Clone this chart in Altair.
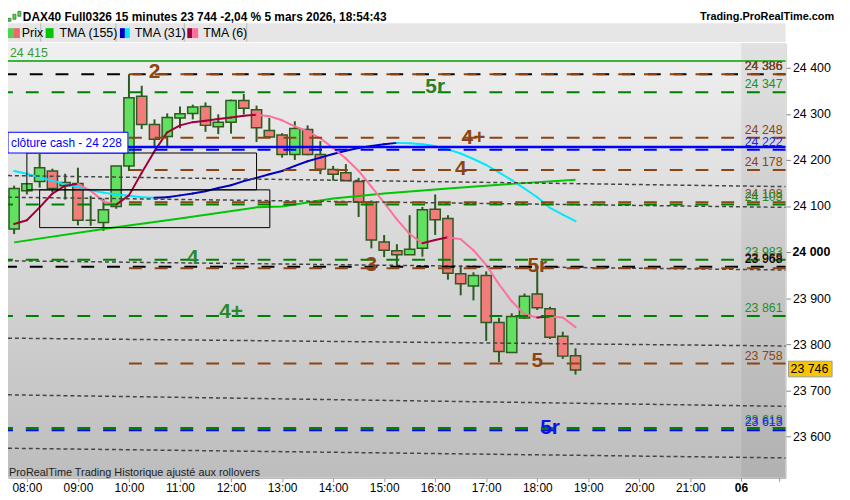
import altair as alt
import pandas as pd

# ---------------- data ----------------
bar_times = ["07:45", "08:00", "08:15", "08:30", "08:45", "09:00", "09:15", "09:30", "09:45",
             "10:00", "10:15", "10:30", "10:45", "11:00", "11:15", "11:30", "11:45",
             "12:00", "12:15", "12:30", "12:45", "13:00", "13:15", "13:30", "13:45",
             "14:00", "14:15", "14:30", "14:45", "15:00", "15:15", "15:30", "15:45",
             "16:00", "16:15", "16:30", "16:45", "17:00", "17:15", "17:30", "17:45",
             "18:00", "18:15", "18:30", "18:45"]
opens = [24050, 24133, 24153, 24176, 24144, 24149, 24069, 24064, 24099, 24187,
         24338, 24277, 24251, 24291, 24301, 24316, 24272, 24282, 24329, 24309,
         24264, 24254, 24212, 24266, 24212, 24179, 24172, 24153, 24108, 24022,
         24003, 23994, 24008, 24093, 24073, 23953, 23926, 23949, 23847, 23782,
         23857, 23909, 23877, 23817, 23775]
highs = [24144, 24148, 24213, 24181, 24170, 24183, 24122, 24116, 24187, 24386,
         24361, 24288, 24301, 24316, 24320, 24325, 24299, 24331, 24343, 24318,
         24291, 24258, 24284, 24275, 24241, 24187, 24191, 24161, 24112, 24037,
         24017, 24080, 24098, 24125, 24080, 23971, 23956, 23958, 23857, 23867,
         23910, 23965, 23881, 23827, 23791]
lows = [24039, 24125, 24140, 24130, 24114, 24058, 24057, 24046, 24094, 24176,
        24267, 24230, 24230, 24269, 24288, 24261, 24256, 24257, 24299, 24239,
        24248, 24205, 24200, 24210, 24169, 24155, 24155, 24076, 24008, 23989,
        23970, 23994, 23990, 24037, 23940, 23906, 23895, 23807, 23761, 23782,
        23855, 23874, 23811, 23768, 23734]
closes = [24138, 24148, 24183, 24138, 24151, 24069, 24069, 24092, 24187, 24335,
          24277, 24245, 24292, 24300, 24315, 24275, 24282, 24329, 24312, 24270,
          24250, 24212, 24268, 24212, 24180, 24169, 24155, 24108, 24026, 24004,
          23994, 24006, 24092, 24070, 23954, 23931, 23949, 23847, 23784, 23860,
          23904, 23879, 23815, 23774, 23744]

tma6 = [24061, 24069, 24097, 24127, 24144, 24148, 24133, 24110, 24103, 24123,
        24172, 24219, 24260, 24275, 24282, 24285, 24289, 24292, 24296, 24298,
        24295, 24286, 24273, 24262, 24247, 24226, 24203, 24176, 24142, 24107,
        24071, 24039, 24019, 24026, 24032, 24028, 24004, 23972, 23930, 23893,
        23865, 23858, 23860, 23858, 23837]
tma31 = [24176, 24170, 24162, 24155, 24147, 24141, 24134, 24129, 24125, 24122,
         24119, 24118, 24119, 24123, 24127, 24132, 24139, 24145, 24154, 24161,
         24169, 24176, 24187, 24197, 24205, 24213, 24220, 24226, 24230, 24234,
         24237, 24236, 24234, 24230, 24223, 24214, 24202, 24189, 24173, 24156,
         24138, 24119, 24096, 24081, 24067]
tma155_times = ["07:45", "09:30", "11:00", "12:30", "13:00", "14:00", "15:00", "16:15", "17:30", "18:45"]
tma155 = [24021, 24050, 24073, 24097, 24099, 24116, 24127, 24138, 24148, 24157]

x_tick_labels = ["08:00", "09:00", "10:00", "11:00", "12:00", "13:00", "14:00",
                 "15:00", "16:00", "17:00", "18:00", "19:00", "20:00", "21:00", "06"]
y_ticks = [23600, 23700, 23800, 23900, 24000, 24100, 24200, 24300, 24400]
y_bold_tick = 24000

# horizontal levels: price, colour, style, start time (None = whole width)
level_prices = [24415, 24386, 24386, 24347, 24248, 24228, 24222, 24178, 24108, 24103,
                23983, 23968, 23965, 23861, 23758, 23618, 23613]
level_colors = ["#3cb43c", "#000000", "#8B4513", "#008000", "#8B4513", "#0000ff", "#0000ff",
                "#8B4513", "#8B4513", "#008000", "#008000", "#000000", "#8B4513", "#008000",
                "#8B4513", "#008000", "#0000ff"]
level_styles = ["solid", "dash", "dash", "dash", "dash", "solid", "dash", "dash", "dash", "dash",
                "dash", "dash", "dash", "dash", "dash", "dash", "dash"]
level_starts = [None, None, "10:00", None, "10:00", None, None, "10:00", "10:00", None,
                None, None, "10:00", None, "10:00", None, None]

# right-hand level labels
rlabel_text = ["24 386", "24 386", "24 347", "24 248", "24 222", "24 178", "24 108", "24 103",
               "23 983", "23 965", "23 968", "23 861", "23 758", "23 618", "23 613"]
rlabel_price = [24386, 24386, 24347, 24248, 24222, 24178, 24108, 24103,
                23983, 23969, 23968, 23861, 23758, 23618, 23613]
rlabel_color = ["#000000", "#8B4513", "#1f8f1f", "#8B4513", "#2020ff", "#8B4513", "#8B4513",
                "#1f8f1f", "#1f8f1f", "#8B4513", "#000000", "#1f8f1f", "#8B4513", "#1f8f1f", "#2020ff"]

# big wave labels
wave_text = ["2", "5r", "4+", "4", "4", "3", "5r", "4+", "5", "5r"]
wave_time = ["10:30", "16:00", "16:45", "16:30", "11:15", "14:45", "18:00", "12:00", "18:00", "18:15"]
wave_price = [24391, 24359, 24247, 24180, 23987, 23972, 23970, 23869, 23763, 23617]
wave_color = ["#8B4513", "#2a7f2a", "#8B4513", "#8B4513", "#2a8a2a", "#8B4513", "#8B4513",
              "#2a8a2a", "#8B4513", "#1010ee"]

# sloped dotted channel lines (left price, right price)
dot_left = [24166, 24119, 23981, 23813, 23690, 23574]
dot_right = [24142, 24097, 23961, 23796, 23665, 23553]

# two black boxes: t0, t1 (hours after 08:00), p0, p1
box_t0 = [0.0, 0.25]
box_t1 = [4.5, 4.76]
box_p0 = [24215, 24135]
box_p1 = [24135, 24053]

last_price = 23746

# ---------------- helpers ----------------
FONT = "Liberation Sans"
NARROW = "Liberation Sans Narrow, Liberation Sans"
XMIN, XMAX = -0.37, 14.865
YMIN, YMAX = 23509.7, 24453.8
W, H = 785, 439
WICK = "#2d5a1e"
xs = alt.Scale(domain=[XMIN, XMAX], nice=False, zero=False)
ys = alt.Scale(domain=[YMIN, YMAX], nice=False, zero=False)

x_axis = alt.Axis(values=list(range(14)),
                  labelExpr="(datum.value < 2 ? '0' : '') + (datum.value + 8) + ':00'",
                  title=None, grid=False, tickSize=4, tickColor="#999", domainColor="#aaa",
                  labelFont=NARROW, labelFontSize=12, labelColor="#000", labelPadding=1,
                  labelFlush=False)
y_axis = alt.Axis(orient="right", values=y_ticks,
                  labelExpr="datum.value == %d ? '' : replace(format(datum.value, ','), ',', ' ')" % y_bold_tick,
                  title=None, grid=False, tickSize=5, tickColor="#888", domainColor="#bbb",
                  labelFont=FONT, labelFontSize=12.5, labelColor="#000", labelPadding=2)


def X(f):
    return alt.X(f, type="quantitative", scale=xs, axis=x_axis)


def Y(f):
    return alt.Y(f, type="quantitative", scale=ys, axis=y_axis)


def hours(s):
    h, m = s.split(":")
    return int(h) + int(m) / 60 - 8


one = pd.DataFrame({"a": [0]})

# ---------------- layers ----------------
layers = []

grad = alt.LinearGradient(gradient="linear",
                          stops=[alt.GradientStop(color="#f0f0f0", offset=0),
                                 alt.GradientStop(color="#bdbdbd", offset=1)],
                          x1=0, x2=0, y1=0, y2=1)
layers.append(alt.Chart(one).mark_rect(fill=grad).encode(
    x=alt.value(0), x2=alt.value(W), y=alt.value(0), y2=alt.value(H)))

# future zone shading
fz = pd.DataFrame({"t0": [14.0], "t1": [XMAX]})
layers.append(alt.Chart(fz).mark_rect(fill="#000000", opacity=0.06).encode(
    x=X("t0"), x2="t1", y=alt.value(0), y2=alt.value(H)))

# candles
cdf = pd.DataFrame({"t": [hours(s) for s in bar_times], "o": opens, "h": highs,
                    "l": lows, "c": closes})
cdf["t0"] = cdf["t"] - 0.1
cdf["t1"] = cdf["t"] + 0.1
cdf["fill"] = ["#62e062" if c >= o else "#f27c7c" for o, c in zip(opens, closes)]

layers.append(alt.Chart(cdf).mark_rule(color=WICK, strokeWidth=2).encode(
    x=X("t"), y=Y("l"), y2="h"))
layers.append(alt.Chart(cdf).mark_rect(stroke=WICK, strokeWidth=1.5).encode(
    x=X("t0"), x2="t1", y=Y("o"), y2="c",
    fill=alt.Fill("fill:N", scale=None)))

# bold tick labels (24 000 on the price axis, 06 on the time axis) + next-day ticks
bt = pd.DataFrame({"p": [y_bold_tick], "t": [14.0]})
nt = pd.DataFrame({"t": [14.0, 14.75]})
layers.append(alt.Chart(bt).mark_text(text="24 000", align="left", baseline="middle",
                                      font=FONT, fontSize=12.5, fontWeight="bold",
                                      color="#000").encode(
    x=alt.value(W + 7), y=Y("p")))
layers.append(alt.Chart(nt).mark_rule(color="#999").encode(
    x=X("t"), y=alt.value(H), y2=alt.value(H + 4)))
layers.append(alt.Chart(bt).mark_text(text=x_tick_labels[-1], align="center", baseline="top",
                                      font=NARROW, fontSize=12, fontWeight="bold",
                                      color="#000").encode(
    x=X("t"), y=alt.value(H + 5)))


# moving averages
def segs(times, vals, up, down):
    rows = []
    for i in range(len(vals) - 1):
        rows.append(dict(t=hours(times[i]), t2=hours(times[i + 1]), p=vals[i], p2=vals[i + 1],
                         col=up if vals[i + 1] >= vals[i] else down))
    return pd.DataFrame(rows)


m155 = pd.DataFrame({"t": [hours(s) for s in tma155_times], "p": tma155})
layers.append(alt.Chart(m155).mark_line(color="#00c800", strokeWidth=2).encode(
    x=X("t"), y=Y("p")))
for df in (segs(bar_times, tma31, "#0000c0", "#00e8ff"),
           segs(bar_times, tma6, "#a0003a", "#ff6f9a")):
    layers.append(alt.Chart(df).mark_rule(strokeWidth=2, strokeCap="round").encode(
        x=X("t"), x2="t2", y=Y("p"), y2="p2",
        color=alt.Color("col:N", scale=None)))

# dotted channel lines
ddf = pd.DataFrame({"t": [XMIN] * len(dot_left), "t2": [XMAX] * len(dot_left),
                    "p": dot_left, "p2": dot_right})
layers.append(alt.Chart(ddf).mark_rule(color="#444444", strokeWidth=1.5, strokeDash=[4, 3]).encode(
    x=X("t"), x2="t2", y=Y("p"), y2="p2"))

# horizontal levels
for p, c, st, s0 in zip(level_prices, level_colors, level_styles, level_starts):
    ldf = pd.DataFrame({"t": [XMIN if s0 is None else hours(s0)], "t2": [XMAX], "p": [p]})
    if st == "solid":
        mk = alt.Chart(ldf).mark_rule(color=c, strokeWidth=2.5 if c == "#0000ff" else 2)
    else:
        off = {"#000000": 4, "#8B4513": 0, "#008000": 8, "#0000ff": 8}[c]
        mk = alt.Chart(ldf).mark_rule(color=c, strokeWidth=2, strokeDash=[13, 13],
                                      strokeDashOffset=off)
    layers.append(mk.encode(x=X("t"), x2="t2", y=Y("p")))

# black boxes
bdf = pd.DataFrame({"t0": box_t0, "t1": box_t1, "p0": box_p0, "p1": box_p1})
layers.append(alt.Chart(bdf).mark_rect(fillOpacity=0, stroke="#000000", strokeWidth=1).encode(
    x=X("t0"), x2="t1", y=Y("p0"), y2="p1"))

# clôture cash box
cdf2 = pd.DataFrame({"t0": [XMIN], "t1": [1.98], "p0": [24260], "p1": [24215], "pm": [24237]})
layers.append(alt.Chart(cdf2).mark_rect(fill="white", stroke="#0000ff", strokeWidth=1).encode(
    x=X("t0"), x2="t1", y=Y("p0"), y2="p1"))
layers.append(alt.Chart(cdf2).mark_text(text="clôture cash -  24 228", align="left", dx=3,
                                        font=FONT, fontSize=12, color="#0000ff").encode(
    x=X("t0"), y=Y("pm")))

# 24 415 label top-left
tl = pd.DataFrame({"t": [XMIN], "p": [24415]})
layers.append(alt.Chart(tl).mark_text(text="24 415", align="left", dx=2, dy=-8,
                                      font=FONT, fontSize=12.5, color="#3a9a3a").encode(
    x=X("t"), y=Y("p")))

# right labels
rdf = pd.DataFrame({"txt": rlabel_text, "p": rlabel_price, "c": rlabel_color})
layers.append(alt.Chart(rdf).mark_text(align="right", baseline="middle", dy=-8,
                                       font=FONT, fontSize=12.5).encode(
    x=alt.value(W - 3), y=Y("p"), text="txt:N",
    color=alt.Color("c:N", scale=None)))

# wave labels
wdf = pd.DataFrame({"txt": wave_text, "t": [hours(s) for s in wave_time], "p": wave_price,
                    "c": wave_color})
layers.append(alt.Chart(wdf).mark_text(align="center", baseline="middle", font=FONT,
                                       fontSize=21, fontWeight="bold").encode(
    x=X("t"), y=Y("p"), text="txt:N",
    color=alt.Color("c:N", scale=None)))

# last price tag on the axis
lp = pd.DataFrame({"p": [last_price], "p0": [last_price + 17], "p1": [last_price - 17]})
layers.append(alt.Chart(lp).mark_rect(fill="#f7c600", stroke="#9a9a9a", strokeWidth=1).encode(
    x=alt.value(W + 3), x2=alt.value(W + 47), y=Y("p0"), y2="p1"))
layers.append(alt.Chart(lp).mark_text(text="23 746", align="left", baseline="middle",
                                      font=FONT, fontSize=12.5, color="#000").encode(
    x=alt.value(W + 5), y=Y("p")))

# footer text
layers.append(alt.Chart(one).mark_text(text="ProRealTime Trading  Historique ajusté aux rollovers",
                                       align="left", baseline="middle", font=NARROW,
                                       fontSize=11, color="#222").encode(
    x=alt.value(1), y=alt.value(H - 5)))

# header: title row
layers.append(alt.Chart(one).mark_rect(fill="#e6e6e6").encode(
    x=alt.value(0), x2=alt.value(W), y=alt.value(-20), y2=alt.value(-1)))
for x0, x1, y0, y1 in [(0, 3, -25, -22), (5, 8, -29, -24), (10, 13, -32, -27)]:
    layers.append(alt.Chart(one).mark_rect(fill="#5ccf5c", stroke="#2d7a2d", strokeWidth=0.8).encode(
        x=alt.value(x0), x2=alt.value(x1), y=alt.value(y0), y2=alt.value(y1)))
layers.append(alt.Chart(one).mark_text(
    text="DAX40 Full0326 15 minutes 23 744 -2,04 % 5 mars 2026, 18:54:43",
    align="left", baseline="middle", font=FONT, fontSize=12, fontWeight="bold",
    color="#000").encode(x=alt.value(15), y=alt.value(-26)))
layers.append(alt.Chart(one).mark_text(text="Trading.ProRealTime.com", align="right",
                                       baseline="middle", font=FONT, fontSize=11,
                                       fontWeight="bold", color="#000").encode(
    x=alt.value(834), y=alt.value(-26)))

# legend row
leg_sq = [(0, 6, "#55d055"), (6, 12, "#e86a6a"), (38, 46, "#00c800"), (113, 118, "#0000c0"),
          (118, 123, "#00e8ff"), (181, 186, "#a0003a"), (186, 192, "#ff6f9a")]
for x0, x1, c in leg_sq:
    layers.append(alt.Chart(one).mark_rect(fill=c).encode(
        x=alt.value(x0), x2=alt.value(x1), y=alt.value(-15), y2=alt.value(-5)))
for xv in [33, 109, 178, 241]:
    layers.append(alt.Chart(one).mark_rule(color="#b8b8b8", strokeWidth=1).encode(
        x=alt.value(xv), y=alt.value(-20), y2=alt.value(-1)))
for xv, txt in [(14, "Prix"), (52, "TMA (155)"), (128, "TMA (31)"), (197, "TMA (6)")]:
    layers.append(alt.Chart(one).mark_text(text=txt, align="left", baseline="middle",
                                           font=FONT, fontSize=12.5, color="#000").encode(
        x=alt.value(xv), y=alt.value(-10)))

chart = alt.layer(*layers).properties(
    width=W, height=H,
    padding={"left": 0, "top": 33, "right": 57, "bottom": 20},
    autosize=alt.AutoSizeParams(type="none"),
    background="white",
).configure_view(strokeWidth=0)

chart.save("out.html", embed_options={"renderer": "svg", "actions": False})
